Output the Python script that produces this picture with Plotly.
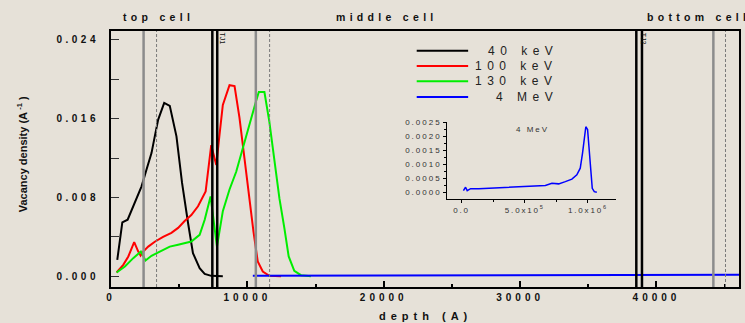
import plotly.graph_objects as go

# ---------------- data ----------------
black_x = [460, 830, 1220, 1750, 2240, 2600, 2970, 3210, 3460, 3900, 4310, 4800, 5210, 5650, 6010, 6500, 6870, 7350, 8200]
black_y = [0.00166, 0.00546, 0.00573, 0.00743, 0.00912, 0.0108, 0.0125, 0.0142, 0.0159, 0.0176, 0.0173, 0.0142,
           0.00947, 0.0054, 0.00234, 0.00081, 0.00023, 0.00003, 0.0]

red_x = [410, 900, 1270, 1700, 2000, 2170, 2360, 2730, 3210, 3820, 4430, 4920, 5400, 5890, 6380, 6940, 7350, 7720,
         7960, 8200, 8690, 9060, 9420, 9790, 10150, 10450, 10760, 11130, 11610, 12470]
red_y = [0.00037, 0.00115, 0.0020, 0.00346, 0.0025, 0.0021, 0.0025, 0.0030, 0.0035, 0.0040, 0.0044, 0.0049, 0.0056,
         0.0062, 0.0071, 0.0086, 0.0133, 0.0113, 0.0144, 0.0174, 0.0194, 0.0193, 0.0161, 0.0117, 0.0076, 0.0045,
         0.0015, 0.00047, 0.00003, 0.0]

green_x = [410, 1020, 1630, 2190, 2530, 2970, 3580, 4310, 4920, 5890, 6500, 6870, 7300, 7770, 8200, 8690, 9180, 9670,
           10150, 10640, 10840, 11250, 11610, 11980, 12350, 12710, 13030, 13440, 13930, 14660]
green_y = [0.00037, 0.00098, 0.00183, 0.0025, 0.00159, 0.00207, 0.0025, 0.0030, 0.00319, 0.00352, 0.0042, 0.00573,
           0.0081, 0.0030, 0.0066, 0.0088, 0.0106, 0.0130, 0.0156, 0.0178, 0.0187, 0.0187, 0.0157, 0.0120, 0.0079,
           0.0049, 0.0020, 0.00054, 0.0001, 0.0]

blue_x = [10400, 20000, 30000, 40000, 46050]
blue_y = [0.00005, 0.00007, 0.0001, 0.00013, 0.00015]

inset_x = [15000, 32000, 45000, 72000, 137000, 400000, 531000, 663000, 715000, 768000, 821000, 873000, 912000,
           939000, 957000, 973000, 983000, 997000, 1010000, 1023000, 1034000, 1050000, 1070000]
inset_y = [0.00006, 0.00018, 0.00006, 0.00013, 0.00013, 0.00018, 0.0002, 0.00024, 0.00032, 0.0003, 0.00038,
           0.00047, 0.00062, 0.00086, 0.0014, 0.002, 0.00234, 0.00224, 0.00152, 0.00056, 0.00014, 0.00002, 0.0]

series_names = ["40 keV", "100 keV", "130 keV", "4 MeV"]
series_colors = ["#000000", "#ff0000", "#00ee00", "#0000ff"]

gray_solid = [2390, 10620, 44170]
gray_dashed = [3340, 11630, 45060]
black_lines = [7430, 7790, 38520, 38935]

cell_labels = ["top cell", "middle cell", "bottom cell"]
cell_label_x = [0.0757, 0.4397, 0.8503]

junction_labels = ["TJ1", "TJ2"]
junction_x = [7840, 38700]

y_ticks = [0.0, 0.008, 0.016, 0.024]
x_ticks = [0, 10000, 20000, 30000, 40000]
inset_y_ticks = [0.0, 0.0005, 0.001, 0.0015, 0.002, 0.0025]
inset_y_labels = ["0.0000", "0.0005", "0.0010", "0.0015", "0.0020", "0.0025"]
inset_x_ticks = [0, 500000, 1000000]
inset_x_labels = ["0.0", "5.0x10<sup>5</sup>", "1.0x10<sup>6</sup>"]

FONT = "Arial, Liberation Sans, sans-serif"
BG = "#e6e1d8"


def sp(text, ls):
    return f'<span style="letter-spacing:{ls}px">{text}</span>'


fig = go.Figure()

for xs, ys, name, col in zip([black_x, red_x, green_x, blue_x], [black_y, red_y, green_y, blue_y],
                             series_names, series_colors):
    fig.add_trace(go.Scatter(x=xs, y=ys, mode="lines", name=name, line=dict(color=col, width=2),
                             showlegend=False, xaxis="x", yaxis="y"))

fig.add_trace(go.Scatter(x=inset_x, y=inset_y, mode="lines", line=dict(color="#0000ff", width=1.5),
                         showlegend=False, xaxis="x2", yaxis="y2"))

shapes = []
for v in gray_solid:
    shapes.append(dict(type="line", xref="x", yref="paper", x0=v, x1=v, y0=0, y1=1,
                       line=dict(color="#8c8c8c", width=2.5)))
for v in gray_dashed:
    shapes.append(dict(type="line", xref="x", yref="paper", x0=v, x1=v, y0=0, y1=1,
                       line=dict(color="#7a7a7a", width=1, dash="3px,2px")))
for v in black_lines:
    shapes.append(dict(type="line", xref="x", yref="paper", x0=v, x1=v, y0=0, y1=1,
                       line=dict(color="#000000", width=2.5)))

# custom legend
leg_rows = [0.923, 0.8633, 0.8035, 0.7422]
for yy, col in zip(leg_rows, series_colors):
    shapes.append(dict(type="line", xref="paper", yref="paper", x0=0.4868, x1=0.5687, y0=yy, y1=yy,
                       line=dict(color=col, width=2)))

annotations = []
for yy, name in zip(leg_rows, series_names):
    annotations.append(dict(xref="paper", yref="paper", x=0.7150, y=yy, xanchor="right", yanchor="middle",
                            text=sp(name, 5.5), showarrow=False,
                            font=dict(family=FONT, size=12, color="#222222")))

for lab, xx in zip(cell_labels, cell_label_x):
    annotations.append(dict(xref="paper", yref="paper", x=xx, y=1.0547,
                            xanchor="left" if lab == "bottom cell" else "center", yanchor="middle",
                            text="<b>" + sp(lab, 4.3) + "</b>", showarrow=False,
                            font=dict(family=FONT, size=10.5, color="#111111")))

annotations.append(dict(xref="paper", yref="paper", x=0.5, y=-0.113, xanchor="center", yanchor="middle",
                        text="<b>" + sp("depth (A)", 5) + "</b>", showarrow=False,
                        font=dict(family=FONT, size=11, color="#111111")))
annotations.append(dict(xref="paper", yref="paper", x=-0.1413, y=0.5195, xanchor="center", yanchor="middle",
                        textangle=-90, text="<b>Vacancy density (A<sup> -1</sup> )</b>", showarrow=False,
                        font=dict(family=FONT, size=11, color="#111111")))
annotations.append(dict(xref="x2", yref="y2", x=560000, y=0.00225, xanchor="center", yanchor="middle",
                        text=sp("4 MeV", 2), showarrow=False, font=dict(family=FONT, size=8, color="#333333")))
for lab, xx in zip(junction_labels, junction_x):
    annotations.append(dict(xref="x", yref="paper", x=xx, y=1.0, xanchor="left", yanchor="top",
                            textangle=90, text=lab, showarrow=False,
                            font=dict(family=FONT, size=7, color="#111111")))

fig.update_layout(
    width=745, height=323,
    margin=dict(l=111, r=4, t=31, b=36),
    paper_bgcolor=BG, plot_bgcolor=BG,
    shapes=shapes, annotations=annotations,
    showlegend=False,
    xaxis=dict(range=[0, 46050], showgrid=False, zeroline=False, showline=True, linecolor="#000000",
               linewidth=2, mirror=True, ticks="inside", ticklen=6, tickwidth=1.5, tickcolor="#000000",
               tickvals=x_ticks, ticktext=["<b>" + sp(str(v), 4) + "</b>" for v in x_ticks],
               tickfont=dict(family=FONT, size=10, color="#111111"),
               minor=dict(ticks="inside", ticklen=3, tickwidth=1.5, tickcolor="#000000", dtick=5000),
               domain=[0, 1]),
    yaxis=dict(range=[-0.0011, 0.0249], showgrid=False, zeroline=False, showline=True, linecolor="#000000",
               linewidth=2, mirror=True, ticks="inside", ticklen=8, tickwidth=1.2, tickcolor="#333333",
               tickvals=y_ticks, ticktext=["<b>" + sp(f"{v:.3f}", 3.5) + "</b>" for v in y_ticks],
               tickfont=dict(family=FONT, size=10, color="#111111"), ticklabelstandoff=8,
               minor=dict(ticks="inside", ticklen=8, tickwidth=1.2, tickcolor="#333333", dtick=0.004, tick0=0),
               domain=[0, 1]),
    xaxis2=dict(range=[-113000, 1225000], domain=[0.5354, 0.8048], anchor="y2", showgrid=False,
                zeroline=False, showline=True, linecolor="#000000", linewidth=1, ticks="outside", ticklen=3,
                tickcolor="#000000", tickvals=inset_x_ticks,
                ticktext=[sp(t, 1.8) for t in inset_x_labels],
                tickfont=dict(family=FONT, size=8, color="#333333"),
                minor=dict(ticks="outside", ticklen=2, tickcolor="#000000", dtick=250000, tick0=0)),
    yaxis2=dict(range=[-0.00024, 0.00252], domain=[0.3438, 0.6457], anchor="x2", showgrid=False,
                zeroline=False, showline=True, linecolor="#000000", linewidth=1, ticks="outside", ticklen=3,
                tickcolor="#000000", tickvals=inset_y_ticks, ticktext=[sp(t, 2) for t in inset_y_labels],
                tickfont=dict(family=FONT, size=8, color="#333333"),
                minor=dict(ticks="outside", ticklen=2, tickcolor="#000000", dtick=0.00025, tick0=0)),
)

fig.write_html("out.html", config={"displayModeBar": False},
               post_script="document.body.style.margin='0';document.body.style.background='%s';" % BG)
